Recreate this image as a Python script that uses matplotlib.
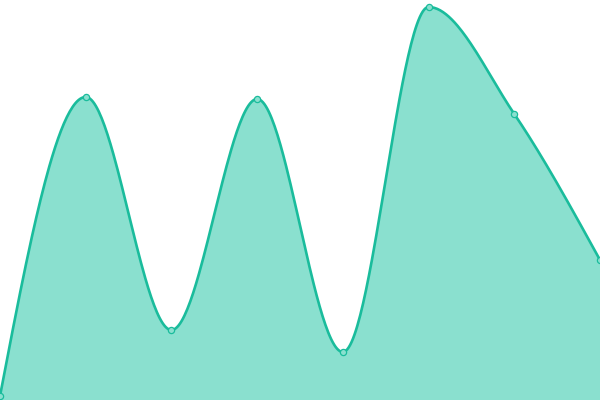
import matplotlib
matplotlib.use("Agg")
import matplotlib.pyplot as plt
import numpy as np

# values (plot height = 400)
x_vals = [0, 1, 2, 3, 4, 5, 6, 7]
y_vals = [4, 303, 70, 301, 48, 393, 286, 140]

line_color = "#1abc9c"
fill_color = "#8ae0cf"


def monotone_x(xs, ys, n=60):
    # same scheme as d3.curveMonotoneX
    xs = np.asarray(xs, float)
    ys = np.asarray(ys, float)
    h = np.diff(xs)
    s = np.diff(ys) / h
    t = np.zeros(len(xs))
    for i in range(1, len(xs) - 1):
        p = (s[i - 1] * h[i] + s[i] * h[i - 1]) / (h[i - 1] + h[i])
        t[i] = (np.sign(s[i - 1]) + np.sign(s[i])) * min(abs(s[i - 1]), abs(s[i]), 0.5 * abs(p))
    t[0] = (3 * s[0] - t[1]) / 2
    t[-1] = (3 * s[-1] - t[-2]) / 2
    px, py = [], []
    u = np.linspace(0, 1, n)
    for i in range(len(xs) - 1):
        dx = h[i] / 3
        p0 = (xs[i], ys[i])
        p1 = (xs[i] + dx, ys[i] + dx * t[i])
        p2 = (xs[i + 1] - dx, ys[i + 1] - dx * t[i + 1])
        p3 = (xs[i + 1], ys[i + 1])
        b0 = (1 - u) ** 3
        b1 = 3 * (1 - u) ** 2 * u
        b2 = 3 * (1 - u) * u ** 2
        b3 = u ** 3
        px.extend(b0 * p0[0] + b1 * p1[0] + b2 * p2[0] + b3 * p3[0])
        py.extend(b0 * p0[1] + b1 * p1[1] + b2 * p2[1] + b3 * p3[1])
    return np.array(px), np.array(py)


fig = plt.figure(figsize=(6, 4), dpi=100)
ax = fig.add_axes([0, 0, 1, 1])

cx, cy = monotone_x(x_vals, y_vals)
ax.fill_between(cx, 0, cy, color=fill_color, linewidth=0)
ax.plot(cx, cy, color=line_color, linewidth=1.9, solid_capstyle="round")
ax.scatter(x_vals, y_vals, s=20, facecolor=fill_color, edgecolor=line_color,
           linewidth=0.9, zorder=3, clip_on=False)

ax.set_xlim(0, 7)
ax.set_ylim(0, 400)
ax.axis("off")

fig.savefig("out.png", dpi=100)
